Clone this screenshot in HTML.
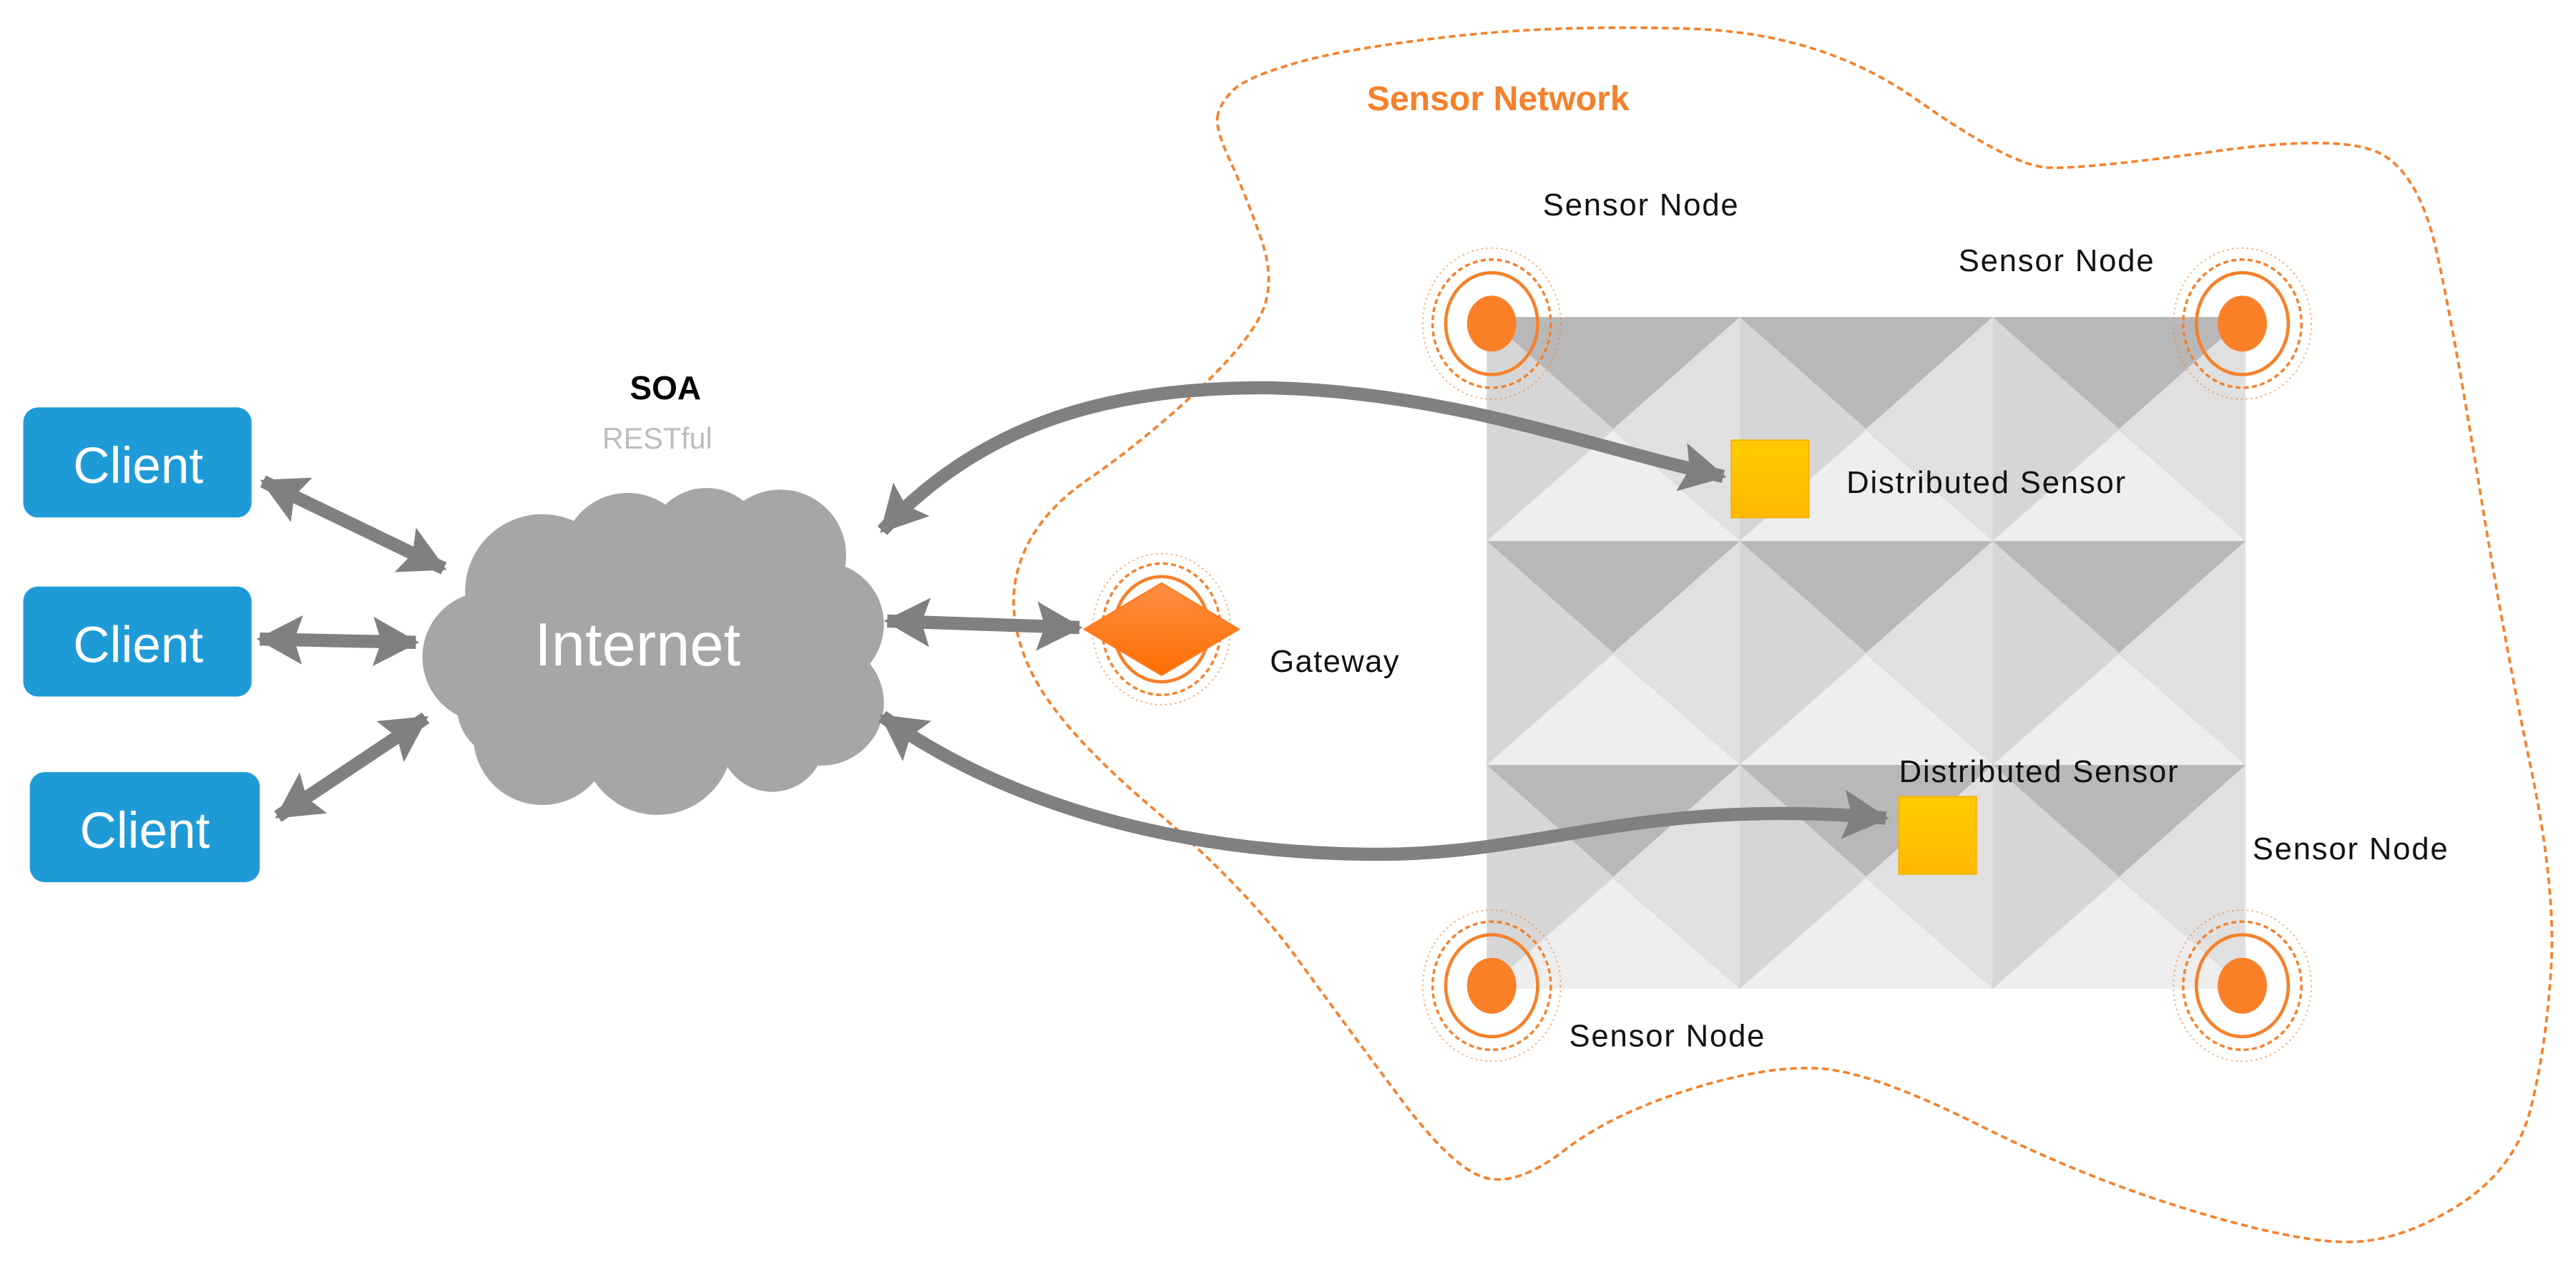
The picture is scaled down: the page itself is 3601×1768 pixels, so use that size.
<!DOCTYPE html>
<html><head><meta charset="utf-8"><style>
html,body{margin:0;padding:0;background:#fff;}
svg{display:block;}
text{font-family:"Liberation Sans",sans-serif;}
</style></head><body>
<svg width="3601" height="1768" viewBox="0 0 1568 770" xmlns="http://www.w3.org/2000/svg">
<defs>
<g id="cell">
<rect x="0" y="0" width="154" height="136.3" fill="#DCDCDC"/>
<polygon points="0,0 0,136.3 77,68" fill="#D6D6D6"/>
<polygon points="154,0 154,136.3 77,68" fill="#E0E0E0"/>
<polygon points="0,0 154,0 77,68" fill="#B8B8B8"/>
<polygon points="0,136.3 154,136.3 77,69" fill="#EEEEEE"/>
</g>
<g id="node">
<ellipse cx="0" cy="0" rx="42" ry="46" fill="none" stroke="#F5812A" stroke-width="0.8" stroke-dasharray="1 2" opacity="0.7"/>
<ellipse cx="0" cy="0" rx="36" ry="39" fill="none" stroke="#F5812A" stroke-width="1.5" stroke-dasharray="3 2"/>
<ellipse cx="0" cy="0" rx="28" ry="31" fill="none" stroke="#F5812A" stroke-width="2"/>
<ellipse cx="0" cy="0" rx="15" ry="17" fill="#FA8028"/>
</g>
<marker id="ah" markerUnits="userSpaceOnUse" markerWidth="34" markerHeight="34" refX="26" refY="15" orient="auto-start-reverse">
<polygon points="0,0 28,15 0,30 5,15" fill="#808080"/>
</marker>
<linearGradient id="dg" x1="0" y1="0" x2="0" y2="1"><stop offset="0" stop-color="#FF8F45"/><stop offset="1" stop-color="#FF6E00"/></linearGradient>
<linearGradient id="yg" x1="0" y1="0" x2="0" y2="1"><stop offset="0" stop-color="#FFCC00"/><stop offset="1" stop-color="#FFB900"/></linearGradient>
</defs>

<path d="M741,71.5 Q742,64 750,55.5 Q758,47 790,38 Q822,29 885.5,22 Q949,15 1029,17.5 Q1109,20 1166.5,60.5 Q1224,101 1246.5,102 Q1269,103 1349,92 Q1429,81 1451,94.5 Q1473,108 1483,152 Q1493,196 1509,294.5 Q1525,393 1540.5,466.5 Q1556,540 1553,589 Q1550,638 1540.5,675 Q1531,712 1496,734 Q1461,756 1429,756 Q1397,756 1333,736.5 Q1269,717 1205,685 Q1141,653 1109,650.5 Q1077,648 1029,663 Q981,678 952.5,700 Q924,722 904.5,717 Q885,712 853.5,670 Q822,628 790,584 Q758,540 700.5,491 Q643,442 627,407.5 Q611,373 620.5,343.5 Q630,314 662,292 Q694,270 726,240.5 Q758,211 767.5,191.5 Q777,172 767.5,145 Q758,118 749,98.5 Q740,79 741,71.5 Z" fill="none" stroke="#F5812A" stroke-width="1.6" stroke-dasharray="4 2.5"/>
<text x="832" y="67" font-size="21" font-weight="bold" fill="#F5812A">Sensor Network</text>

<use href="#cell" x="905" y="193"/>
<use href="#cell" x="1059" y="193"/>
<use href="#cell" x="1213" y="193"/>
<use href="#cell" x="905" y="329.3"/>
<use href="#cell" x="1059" y="329.3"/>
<use href="#cell" x="1213" y="329.3"/>
<use href="#cell" x="905" y="465.6"/>
<use href="#cell" x="1059" y="465.6"/>
<use href="#cell" x="1213" y="465.6"/>

<use href="#node" x="908" y="197"/>
<use href="#node" x="1365" y="197"/>
<use href="#node" x="908" y="600"/>
<use href="#node" x="1365" y="600"/>
<g font-size="19" fill="#111" text-anchor="middle" letter-spacing="0.8">
<text x="999" y="131">Sensor Node</text>
<text x="1252" y="165">Sensor Node</text>
<text x="1015" y="637">Sensor Node</text>
<text x="1431" y="523">Sensor Node</text>
</g>

<g transform="translate(707,383)">
<ellipse rx="42" ry="46" fill="none" stroke="#F5812A" stroke-width="0.8" stroke-dasharray="1 2" opacity="0.7"/>
<ellipse rx="36" ry="40" fill="none" stroke="#F5812A" stroke-width="1.5" stroke-dasharray="3 2"/>
<ellipse rx="29" ry="32" fill="none" stroke="#F5812A" stroke-width="2"/>
<polygon points="-47,0 0,-28 47,0 0,28" fill="url(#dg)" stroke="#FF7A20" stroke-width="1"/>
</g>
<text x="773" y="409" font-size="19" fill="#111" letter-spacing="0.6">Gateway</text>

<rect x="1054" y="268" width="47" height="47" fill="url(#yg)" stroke="#F5B400" stroke-width="1"/>
<rect x="1156" y="485" width="47" height="47" fill="url(#yg)" stroke="#F5B400" stroke-width="1"/>
<text x="1124" y="300" font-size="19" fill="#111" letter-spacing="0.8">Distributed Sensor</text>
<text x="1156" y="476" font-size="19" fill="#111" letter-spacing="0.8">Distributed Sensor</text>

<g fill="#A6A6A6">
<circle cx="330" cy="360" r="47"/>
<circle cx="382" cy="340" r="40"/>
<circle cx="430" cy="333" r="36"/>
<circle cx="475" cy="338" r="40"/>
<circle cx="500" cy="380" r="38"/>
<circle cx="500" cy="428" r="38"/>
<circle cx="470" cy="450" r="32"/>
<circle cx="400" cy="450" r="46"/>
<circle cx="330" cy="448" r="42"/>
<circle cx="297" cy="400" r="40"/>
<circle cx="310" cy="430" r="32"/>
<rect x="300" y="340" width="200" height="120"/>
</g>
<text x="388" y="405" font-size="37" fill="#fff" text-anchor="middle">Internet</text>
<text x="405" y="243" font-size="20" font-weight="bold" text-anchor="middle" fill="#000">SOA</text>
<text x="400" y="273" font-size="18" text-anchor="middle" fill="#BDBDBD">RESTful</text>

<rect x="14" y="248" width="139" height="67" rx="9" fill="#1E9BD7"/>
<rect x="14" y="357" width="139" height="67" rx="9" fill="#1E9BD7"/>
<rect x="18" y="470" width="140" height="67" rx="9" fill="#1E9BD7"/>
<text x="84" y="294" font-size="31" fill="#fff" text-anchor="middle">Client</text>
<text x="84" y="403" font-size="31" fill="#fff" text-anchor="middle">Client</text>
<text x="88" y="516" font-size="31" fill="#fff" text-anchor="middle">Client</text>

<g fill="none" stroke="#808080" stroke-width="8">
<line x1="160" y1="293" x2="270" y2="346" marker-start="url(#ah)" marker-end="url(#ah)"/>
<line x1="158" y1="389" x2="253" y2="391" marker-start="url(#ah)" marker-end="url(#ah)"/>
<line x1="169" y1="497" x2="259" y2="437" marker-start="url(#ah)" marker-end="url(#ah)"/>
<line x1="540" y1="378" x2="657" y2="382" marker-start="url(#ah)" marker-end="url(#ah)"/>
<path d="M537,323 C600,255 680,236 770,236 C880,238 960,270 1049,290" marker-start="url(#ah)" marker-end="url(#ah)"/>
<path d="M537,436 C620,495 730,520 840,520 C940,520 1000,485 1148,498" marker-start="url(#ah)" marker-end="url(#ah)"/>
</g>
</svg>
</body></html>
